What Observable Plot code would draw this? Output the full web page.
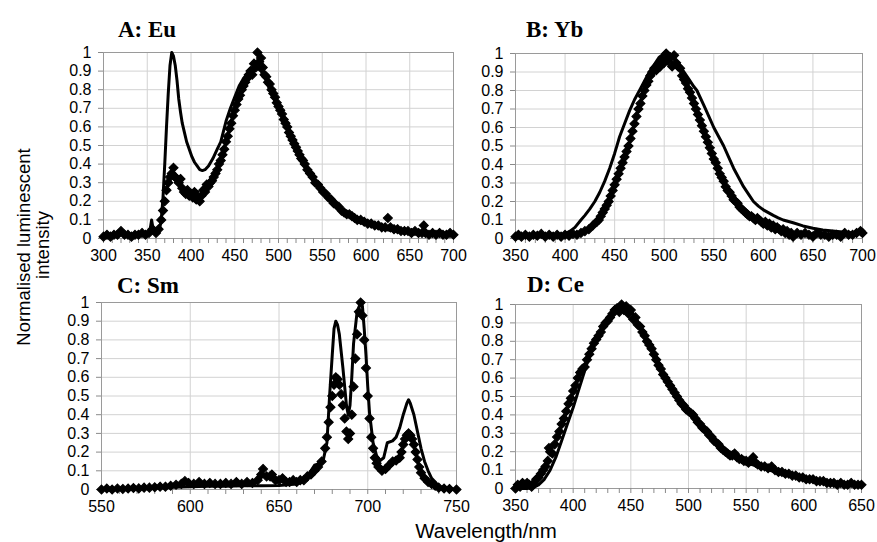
<!DOCTYPE html>
<html>
<head>
<meta charset="utf-8">
<script src="https://cdn.jsdelivr.net/npm/d3@7"></script>
<script src="https://cdn.jsdelivr.net/npm/@observablehq/plot@0.6"></script>
<style>
  html, body { margin: 0; padding: 0; background: #fff; }
  #wrap { position: relative; width: 877px; height: 542px; background: #fff; overflow: hidden; }
  #wrap > .panel { position: absolute; }
  #labels { position: absolute; left: 0; top: 0; pointer-events: none; }
</style>
</head>
<body>
<div id="wrap"></div>
<script>
// ---------- tick labels ----------
const yTicks = [0, 0.1, 0.2, 0.3, 0.4, 0.5, 0.6, 0.7, 0.8, 0.9, 1];
const xTicksA = [300, 350, 400, 450, 500, 550, 600, 650, 700];
const xTicksB = [350, 400, 450, 500, 550, 600, 650, 700];
const xTicksC = [550, 600, 650, 700, 750];
const xTicksD = [350, 400, 450, 500, 550, 600, 650];

// ---------- A: Eu ----------
const euLineWl = [300,320,340,350,353,355,357,360,364,366,368,370,372,374,376,378,380,382,384,386,388,390,392,395,398,401,404,407,410,413,416,420,425,430,434,440,445,450,455,460,465,470,475,480,485,490,495,500,510,520,530,540,550,560,570,580,590,600,620,640,660,680,700];
const euLineVal = [0.01,0.02,0.02,0.03,0.04,0.1,0.04,0.04,0.05,0.1,0.22,0.4,0.6,0.78,0.93,1.0,0.98,0.93,0.85,0.75,0.68,0.62,0.58,0.52,0.48,0.44,0.41,0.39,0.37,0.365,0.37,0.39,0.43,0.48,0.52,0.63,0.7,0.76,0.82,0.86,0.89,0.92,0.92,0.9,0.86,0.8,0.75,0.7,0.59,0.49,0.4,0.33,0.26,0.2,0.16,0.12,0.09,0.075,0.05,0.035,0.025,0.02,0.015];
const euMarkWl = [300,304,308,312,316,320,324,328,332,336,340,344,348,352,356,360,363,366,368,370,372,374,376,378,380,382,384,386,388,390,392,394,396,398,400,402,404,406,408,410,412,414,416,418,420,422,424,426,428,430,432,434,436,438,440,442,444,446,448,450,452,454,456,458,460,462,464,466,468,470,472,474,476,478,480,482,484,486,488,490,492,494,496,498,500,502,504,506,508,510,512,514,516,518,520,522,524,526,528,530,533,536,539,542,545,548,551,554,557,560,563,566,569,572,575,578,581,584,587,590,594,598,602,606,610,614,618,622,625,628,632,636,640,644,648,652,656,660,664,666,668,672,676,680,684,688,692,696,700];
const euMarkVal = [0.01,0.02,0.01,0.02,0.02,0.04,0.02,0.02,0.01,0.02,0.02,0.03,0.02,0.03,0.05,0.03,0.05,0.1,0.15,0.2,0.26,0.3,0.33,0.35,0.38,0.33,0.32,0.3,0.32,0.27,0.25,0.24,0.26,0.23,0.24,0.22,0.25,0.21,0.22,0.2,0.23,0.26,0.25,0.29,0.28,0.3,0.31,0.33,0.35,0.37,0.4,0.42,0.45,0.48,0.52,0.55,0.59,0.62,0.66,0.69,0.72,0.75,0.77,0.8,0.82,0.84,0.86,0.88,0.9,0.88,0.94,0.92,1.0,0.95,0.97,0.92,0.88,0.87,0.84,0.83,0.8,0.78,0.76,0.73,0.71,0.69,0.67,0.64,0.62,0.6,0.57,0.55,0.53,0.51,0.49,0.47,0.45,0.43,0.42,0.4,0.37,0.35,0.33,0.3,0.29,0.27,0.25,0.24,0.22,0.21,0.19,0.18,0.17,0.15,0.14,0.13,0.13,0.12,0.11,0.1,0.1,0.09,0.08,0.08,0.07,0.07,0.06,0.06,0.11,0.06,0.05,0.05,0.04,0.04,0.04,0.03,0.04,0.03,0.03,0.07,0.03,0.02,0.03,0.02,0.03,0.02,0.02,0.03,0.02];

// ---------- B: Yb ----------
const ybLineWl = [350,370,390,400,405,410,416,420,425,430,435,440,445,450,455,460,465,470,476,480,485,490,495,500,505,510,515,520,525,530,533,540,545,550,555,560,565,570,575,580,585,590,595,600,605,610,615,620,630,640,650,660,670,680,690,700];
const ybLineVal = [0.01,0.01,0.015,0.025,0.04,0.06,0.1,0.125,0.16,0.2,0.25,0.31,0.38,0.46,0.55,0.62,0.69,0.75,0.81,0.85,0.9,0.94,0.98,1.0,0.99,0.97,0.94,0.9,0.86,0.82,0.8,0.72,0.66,0.6,0.55,0.5,0.44,0.38,0.33,0.28,0.24,0.2,0.175,0.155,0.14,0.125,0.112,0.1,0.085,0.068,0.055,0.046,0.04,0.035,0.03,0.03];
const ybMarkWl = [350,353,356,360,364,368,372,376,380,384,388,392,396,400,404,408,412,416,420,424,428,432,434,436,438,440,442,444,446,448,450,452,454,456,458,460,462,464,466,468,470,472,474,476,478,480,482,484,486,488,490,492,494,496,498,500,502,504,506,508,510,512,514,516,518,520,522,524,526,528,530,532,534,536,538,540,542,544,546,548,550,552,554,556,558,560,562,564,566,568,570,572,574,576,578,580,582,584,586,588,590,592,594,596,598,600,602,604,606,608,610,612,614,616,618,620,622,624,626,628,630,634,638,642,646,650,654,658,662,666,670,674,678,682,686,690,694,698,700];
const ybMarkVal = [0.01,0.02,0.01,0.02,0.01,0.02,0.015,0.025,0.01,0.02,0.01,0.02,0.01,0.02,0.015,0.025,0.02,0.03,0.04,0.05,0.07,0.09,0.1,0.12,0.14,0.16,0.18,0.2,0.23,0.26,0.29,0.32,0.35,0.38,0.41,0.44,0.47,0.5,0.54,0.58,0.62,0.66,0.7,0.73,0.77,0.8,0.83,0.85,0.88,0.9,0.92,0.91,0.94,0.93,0.97,0.95,1.0,0.96,0.98,0.93,0.99,0.95,0.93,0.92,0.88,0.86,0.84,0.81,0.79,0.76,0.73,0.7,0.67,0.64,0.61,0.58,0.55,0.52,0.49,0.46,0.43,0.41,0.38,0.35,0.33,0.31,0.28,0.26,0.25,0.23,0.21,0.2,0.19,0.17,0.16,0.15,0.14,0.13,0.12,0.12,0.11,0.1,0.11,0.1,0.09,0.08,0.09,0.07,0.08,0.06,0.07,0.05,0.06,0.05,0.04,0.05,0.03,0.04,0.02,0.03,0.01,0.03,0.02,0.03,0.02,0.01,0.03,0.02,0.02,0.01,0.02,0.02,0.01,0.03,0.02,0.02,0.03,0.04,0.03];

// ---------- C: Sm ----------
const smLineWl = [550,560,570,580,590,600,610,620,630,640,650,655,660,663,666,670,673,675,677,678.5,680,681,682,683,684,686,688,689,690,691,692,694,696,697,698,699,700,701,703,705,707,709,711,714,716,718,720,722,723,724,726,728,730,732,734,736,738,740,745,750];
const smLineVal = [0.0,0.0,0.005,0.008,0.012,0.015,0.018,0.018,0.02,0.02,0.022,0.025,0.03,0.04,0.07,0.13,0.14,0.16,0.25,0.5,0.72,0.86,0.9,0.88,0.83,0.65,0.45,0.4,0.45,0.6,0.78,0.95,1.0,0.98,0.86,0.72,0.55,0.41,0.25,0.18,0.155,0.17,0.25,0.26,0.28,0.33,0.4,0.46,0.48,0.46,0.4,0.31,0.22,0.15,0.1,0.06,0.04,0.015,0.005,0.0];
const smMarkWl = [550,553,556,559,562,565,568,571,574,577,580,583,586,589,592,595,597,599,602,605,608,611,614,617,620,623,626,629,632,635,638,640,641,643,645,646,648,650,652,654,656,658,660,662,664,666,668,670,672,674,676,677,678,679,680,681,682,683,684,685,686,687,688,689,690,691,692,693,694,695,696,697,698,699,700,701,702,703,704,705,706,708,710,712,714,716,718,719,720,721,722,723,724,725,726,727,728,729,730,732,734,736,738,740,743,746,750];
const smMarkVal = [0.0,0.005,0.0,0.005,0.003,0.005,0.008,0.006,0.01,0.01,0.012,0.015,0.015,0.02,0.025,0.03,0.045,0.035,0.03,0.04,0.03,0.035,0.03,0.03,0.035,0.03,0.04,0.03,0.04,0.035,0.05,0.08,0.11,0.07,0.07,0.08,0.05,0.05,0.06,0.04,0.04,0.05,0.04,0.05,0.05,0.07,0.08,0.1,0.12,0.15,0.22,0.28,0.36,0.44,0.5,0.56,0.6,0.59,0.56,0.51,0.45,0.38,0.31,0.27,0.3,0.4,0.55,0.7,0.83,0.95,1.0,0.93,0.8,0.65,0.5,0.38,0.28,0.22,0.17,0.14,0.12,0.1,0.11,0.13,0.15,0.155,0.17,0.2,0.24,0.27,0.29,0.3,0.29,0.27,0.24,0.2,0.16,0.12,0.09,0.06,0.04,0.03,0.02,0.01,0.005,0.003,0.0];

// ---------- D: Ce ----------
const ceLineWl = [350,360,365,370,375,380,385,390,395,400,405,410,415,420,425,430,435,440,445,450,455,460,465,470,475,480,485,490,495,500,510,520,530,540,550,560,570,580,590,600,610,620,630,640,650];
const ceLineVal = [0.0,0.0,0.005,0.02,0.05,0.1,0.17,0.26,0.35,0.44,0.54,0.64,0.74,0.81,0.87,0.92,0.96,0.99,1.0,0.97,0.92,0.86,0.8,0.74,0.67,0.61,0.56,0.5,0.46,0.42,0.34,0.27,0.21,0.17,0.14,0.12,0.1,0.08,0.065,0.05,0.04,0.03,0.025,0.02,0.02];
const ceMarkWl = [350,352,354,356,358,360,362,364,366,368,370,372,374,376,378,379,380,382,384,386,388,390,392,394,396,398,400,402,404,406,408,410,412,414,416,418,420,422,424,426,428,430,432,434,436,438,440,442,444,446,448,450,452,454,456,458,460,462,464,466,468,470,472,474,476,478,480,482,484,486,488,490,492,494,496,498,500,502,504,506,508,510,512,514,516,518,520,522,524,526,528,530,532,534,536,538,540,542,544,546,548,550,552,554,556,558,560,563,566,569,572,575,578,581,584,587,590,593,596,599,602,605,608,611,614,617,620,623,626,629,632,635,638,641,644,647,650];
const ceMarkVal = [0.0,0.02,0.01,0.03,0.02,0.03,0.02,0.01,0.03,0.05,0.06,0.08,0.1,0.12,0.15,0.22,0.2,0.19,0.24,0.28,0.31,0.35,0.38,0.42,0.46,0.49,0.53,0.56,0.6,0.63,0.65,0.66,0.7,0.73,0.76,0.79,0.81,0.83,0.85,0.88,0.9,0.91,0.93,0.95,0.97,0.98,0.96,1.0,0.97,0.99,0.95,0.97,0.92,0.93,0.89,0.88,0.85,0.83,0.8,0.78,0.76,0.73,0.7,0.67,0.65,0.62,0.6,0.58,0.56,0.54,0.52,0.5,0.48,0.46,0.45,0.43,0.42,0.41,0.4,0.38,0.36,0.35,0.33,0.32,0.31,0.29,0.28,0.26,0.25,0.24,0.22,0.21,0.2,0.19,0.18,0.18,0.19,0.17,0.16,0.16,0.15,0.15,0.14,0.15,0.17,0.14,0.13,0.12,0.12,0.11,0.12,0.1,0.09,0.09,0.08,0.08,0.07,0.07,0.06,0.06,0.05,0.05,0.05,0.04,0.04,0.04,0.03,0.03,0.03,0.02,0.03,0.02,0.02,0.03,0.02,0.02,0.02];

// ---------- text ----------
const panelTitles = ["A: Eu", "B: Yb", "C: Sm", "D: Ce"];
const xAxisTitle = "Wavelength/nm";
const yAxisTitleLines = ["Normalised luminescent", "intensity"];

const FONT = "'Liberation Sans', Arial, Helvetica, sans-serif";
const zip = (xs, ys) => xs.map((x, i) => ({x, y: ys[i]}));

function panel(cfg) {
  const minor = d3.range(cfg.domain[0], cfg.domain[1] + 0.1, 10);
  return Plot.plot({
    width: cfg.width, height: cfg.height,
    marginLeft: cfg.ml, marginRight: cfg.mr, marginTop: cfg.mt, marginBottom: cfg.mb,
    x: {domain: cfg.domain},
    y: {domain: [0, 1]},
    style: {background: "transparent", overflow: "visible", fontFamily: FONT, fontSize: "16px", color: "#000", maxWidth: "none"},
    marks: [
      Plot.ruleY(yTicks, {stroke: "#d2d2d2", strokeWidth: 1}),
      Plot.ruleX(cfg.ticks, {stroke: "#d2d2d2", strokeWidth: 1}),
      Plot.frame({stroke: "#9a9a9a", strokeWidth: 1}),
      Plot.axisY({ticks: yTicks, tickSize: 5, tickPadding: 7, stroke: "#8a8a8a", fill: "#000", label: null, tickFormat: d => String(d)}),
      Plot.axisX({ticks: minor, tickSize: 5, tickFormat: () => "", stroke: "#8a8a8a", label: null}),
      Plot.axisX({ticks: cfg.ticks, tickSize: 0, tickPadding: 11, fill: "#000", label: null}),
      Plot.line(zip(cfg.lineWl, cfg.lineVal), {x: "x", y: "y", stroke: "#000", strokeWidth: 3, curve: "linear"}),
      Plot.dot(zip(cfg.markWl, cfg.markVal), {x: "x", y: "y", symbol: "diamond2", r: 4, fill: "#000", stroke: "#000", strokeWidth: 1.2})
    ]
  });
}

const wrap = document.getElementById("wrap");
const panels = [
  {left: 0, top: 0, width: 460, height: 270, ml: 103, mr: 7, mt: 52, mb: 32, domain: [300, 700], ticks: xTicksA,
   lineWl: euLineWl, lineVal: euLineVal, markWl: euMarkWl, markVal: euMarkVal},
  {left: 440, top: 0, width: 437, height: 270, ml: 75, mr: 15, mt: 53, mb: 32, domain: [350, 700], ticks: xTicksB,
   lineWl: ybLineWl, lineVal: ybLineVal, markWl: ybMarkWl, markVal: ybMarkVal},
  {left: 0, top: 270, width: 460, height: 272, ml: 101, mr: 4, mt: 32, mb: 53, domain: [550, 750], ticks: xTicksC,
   lineWl: smLineWl, lineVal: smLineVal, markWl: smMarkWl, markVal: smMarkVal},
  {left: 440, top: 270, width: 437, height: 272, ml: 75, mr: 16, mt: 34, mb: 54, domain: [350, 650], ticks: xTicksD,
   lineWl: ceLineWl, lineVal: ceLineVal, markWl: ceMarkWl, markVal: ceMarkVal}
];
for (const p of panels) {
  const svg = panel(p);
  svg.classList.add("panel");
  svg.style.position = "absolute";
  svg.style.left = p.left + "px";
  svg.style.top = p.top + "px";
  svg.style.width = p.width + "px";
  svg.style.height = p.height + "px";
  wrap.appendChild(svg);
}

// overlay text: titles and axis titles
const ns = "http://www.w3.org/2000/svg";
const lab = document.createElementNS(ns, "svg");
lab.setAttribute("id", "labels");
lab.setAttribute("width", 877);
lab.setAttribute("height", 542);
wrap.appendChild(lab);
function addText(str, x, y, attrs) {
  const t = document.createElementNS(ns, "text");
  t.textContent = str;
  t.setAttribute("x", x);
  t.setAttribute("y", y);
  for (const k in attrs) t.setAttribute(k, attrs[k]);
  lab.appendChild(t);
}
const titlePos = [[118, 37], [526, 37], [117, 293], [527, 292]];
panelTitles.forEach((s, i) => addText(s, titlePos[i][0], titlePos[i][1],
  {"font-family": "'Liberation Serif', 'Times New Roman', serif", "font-weight": "bold", "font-size": 23, fill: "#000"}));
addText(xAxisTitle, 486, 538, {"font-family": FONT, "font-size": 20.5, "text-anchor": "middle", fill: "#000"});
addText(yAxisTitleLines[0], 0, 0, {"font-family": FONT, "font-size": 18.5, "text-anchor": "middle", fill: "#000",
  transform: "translate(30,247) rotate(-90)"});
addText(yAxisTitleLines[1], 0, 0, {"font-family": FONT, "font-size": 18.5, "text-anchor": "middle", fill: "#000",
  transform: "translate(49,245) rotate(-90)"});
</script>
</body>
</html>
